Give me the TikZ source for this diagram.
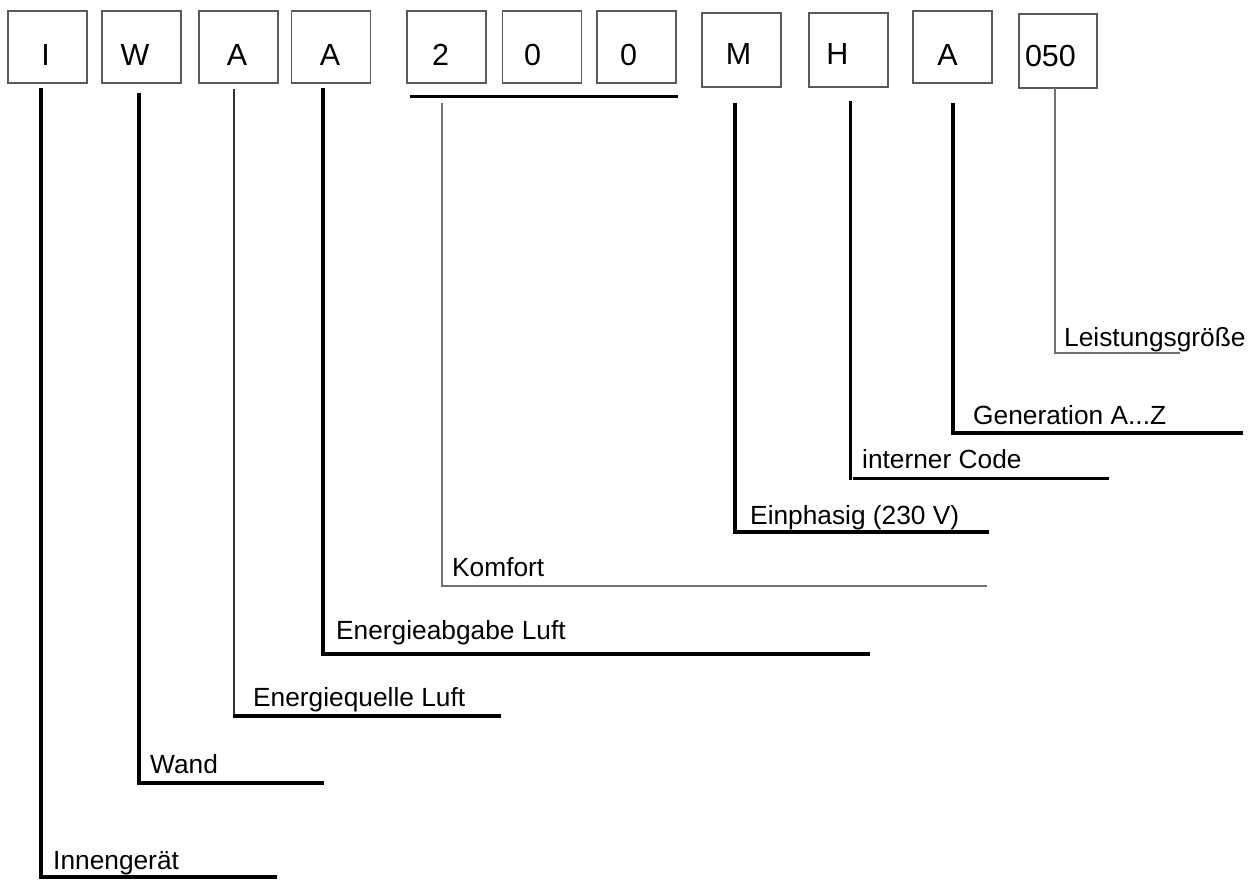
\documentclass[tikz,border=0pt]{standalone}
\usepackage{fontspec}
\setmainfont{Liberation Sans}
\definecolor{boxgray}{HTML}{5A5A5A}
\definecolor{thingray}{HTML}{707070}
\newcommand\shiftby[2]{\kern#1pt #2}
\begin{document}
\begin{tikzpicture}[x=1pt,y=-1pt,
  box/.style={draw=boxgray,line width=1.8pt,minimum width=79pt,minimum height=72pt,
    inner sep=0pt,text height=36pt,text depth=0pt,font=\fontsize{30.5}{34}\selectfont},
  lbl/.style={anchor=base west,inner sep=0pt,font=\fontsize{26.3}{30}\selectfont},
  heavy/.style={line width=3.8pt,black},
  medium/.style={line width=3pt,black},
  thin/.style={line width=2pt,thingray},
]
\useasboundingbox[fill=white] (0,0) rectangle (1255,879);

% code boxes
\node[box] (bI)  at (47.5,47) {\shiftby{-4}{I}};
\node[box] (bW)  at (141.5,47) {\shiftby{-13}{W}};
\node[box] (bA1) at (238.5,47) {\shiftby{-3}{A}};
\node[box] (bA2) at (331,47) {\shiftby{-2}{A}};
\node[box] (b2)  at (446.5,47) {\shiftby{-12}{2}};
\node[box] (b0a) at (542,47) {\shiftby{-19}{0}};
\node[box] (b0b) at (636.5,47) {\shiftby{-16}{0}};
\node[box,minimum height=74pt,text height=28pt] (bM) at (741.5,50) {\shiftby{-6}{M}};
\node[box,minimum height=74pt,text height=28pt] (bH) at (848.5,50) {\shiftby{-22}{H}};
\node[box] (bA3) at (952.5,47) {\shiftby{-10}{A}};
\node[box,minimum width=78pt,minimum height=74pt,text height=30pt,text width=66pt,align=left,inner xsep=6pt] (bP) at (1058,51) {050};

% labels
\node[lbl] (lI)  at (53,869)  {Innengerät};
\node[lbl] (lW)  at (150,773) {Wand};
\node[lbl] (lA1) at (253,706) {Energiequelle Luft};
\node[lbl] (lA2) at (336,639) {Energieabgabe Luft};
\node[lbl] (lK)  at (452,576) {Komfort};
\node[lbl] (lM)  at (750,524) {Einphasig (230 V)};
\node[lbl] (lH)  at (862,468) {interner Code};
\node[lbl] (lA3) at (973,424) {Generation A...Z};
\node[lbl] (lP)  at (1064,346) {Leistungsgröße};

% connector coordinates
\coordinate (sI) at (41,88);    \coordinate (eI) at (277,877);
\coordinate (sW) at (139,93);   \coordinate (eW) at (324,783);
\coordinate (sA1) at (234,89);  \coordinate (cA1) at (234,716); \coordinate (eA1) at (501,716);
\coordinate (sA2) at (323,88);  \coordinate (eA2) at (870,654);
\coordinate (uL) at (410,96);   \coordinate (uR) at (678,96);
\coordinate (sK) at (442,103);  \coordinate (eK) at (987,586);
\coordinate (sM) at (735,103);  \coordinate (eM) at (989,532);
\coordinate (sH) at (850,101);  \coordinate (cH) at (850,480);
\coordinate (hH) at (853,478);  \coordinate (eH) at (1109,478);
\coordinate (sA3) at (953,103); \coordinate (eA3) at (1243,433);
\coordinate (sP) at (1055,88);  \coordinate (eP) at (1180,353);

% connectors
\draw[heavy] (sI) |- (eI);
\draw[heavy] (sW) |- (eW);
\draw[line width=2pt,black!80] (sA1) -- (cA1);
\draw[heavy] ([xshift=-1pt]cA1) -- (eA1);
\draw[heavy] (sA2) |- (eA2);
\draw[medium] (uL) -- (uR);
\draw[thin] (sK) |- (eK);
\draw[heavy] (sM) |- (eM);
\draw[medium] (sH) -- (cH);
\draw[medium] (hH) -- (eH);
\draw[heavy] (sA3) |- (eA3);
\draw[thin] (sP) |- (eP);
\end{tikzpicture}
\end{document}
